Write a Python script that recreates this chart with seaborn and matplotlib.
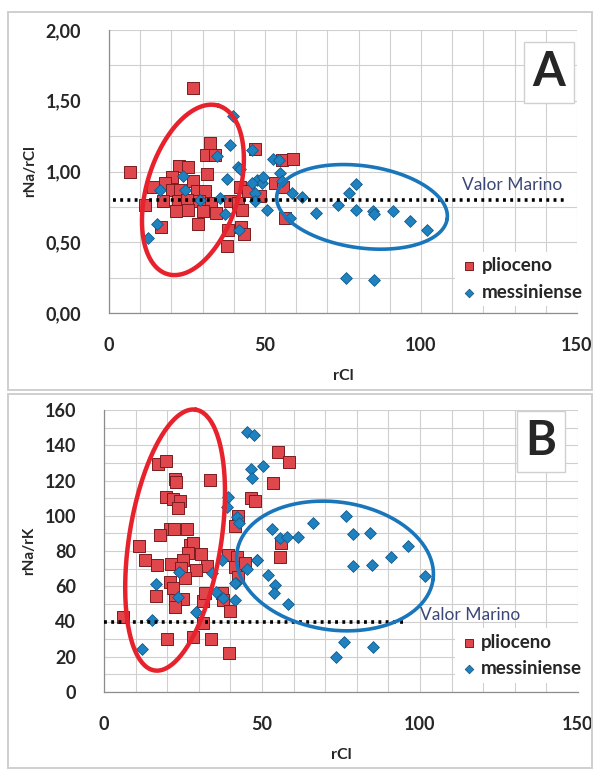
import numpy as np
import pandas as pd
import seaborn as sns
import matplotlib.pyplot as plt
from matplotlib.patches import Rectangle
from matplotlib.ticker import FuncFormatter, MultipleLocator

# panel A: rNa/rCl vs rCl
a_plio_x = [26.8, 6.7, 32.4, 31.1, 34.0, 46.8, 55.3, 59.1, 22.4, 25.4, 31.5, 20.1, 27.0,
            17.9, 14.2, 20.1, 22.8, 28.1, 30.8, 17.4, 22.0, 24.9, 28.8, 32.7, 11.5, 21.4,
            25.4, 30.2, 34.2, 38.8, 41.4, 42.7, 42.0, 44.7, 16.7, 28.6, 38.2, 42.3, 43.4,
            37.7, 53.2, 55.9, 56.4, 48.4]
a_plio_y = [1.59, 1.00, 1.20, 1.12, 1.12, 1.16, 1.08, 1.09, 1.04, 1.03, 0.98, 0.96, 0.93,
            0.92, 0.89, 0.87, 0.87, 0.86, 0.86, 0.79, 0.79, 0.80, 0.79, 0.78, 0.76, 0.72,
            0.73, 0.72, 0.71, 0.79, 0.78, 0.73, 0.89, 0.86, 0.61, 0.63, 0.59, 0.61, 0.56,
            0.47, 0.92, 0.89, 0.67, 0.83]
a_mess_x = [39.8, 38.8, 34.5, 45.7, 52.7, 54.6, 41.5, 23.8, 37.9, 47.3, 48.9, 45.7, 16.3,
            24.4, 46.8, 29.2, 35.6, 54.8, 55.3, 58.5, 61.8, 37.2, 50.5, 15.5, 12.6, 41.8,
            58.0, 46.8, 66.3, 73.5, 77.0, 79.2, 79.2, 84.5, 84.9, 91.1, 96.5, 101.8, 76.0,
            85.0, 42.0, 49.5]
a_mess_y = [1.39, 1.19, 1.11, 1.15, 1.09, 1.08, 1.03, 0.97, 0.95, 0.94, 0.92, 0.92, 0.87,
            0.87, 0.85, 0.80, 0.81, 0.99, 0.93, 0.85, 0.82, 0.70, 0.73, 0.63, 0.53, 0.59,
            0.67, 0.79, 0.71, 0.76, 0.85, 0.91, 0.73, 0.72, 0.70, 0.72, 0.65, 0.59, 0.25,
            0.23, 1.02, 0.96]

# panel B: rNa/rK vs rCl
b_plio_x = [17.0, 19.6, 22.5, 22.8, 33.5, 19.6, 21.9, 24.1, 23.5, 55.2, 58.6, 53.4, 46.4,
            47.8, 42.5, 41.5, 20.9, 22.2, 26.2, 17.7, 11.2, 27.2, 28.2, 26.7, 30.7, 13.0,
            25.1, 16.9, 21.1, 32.5, 29.1, 24.5, 25.6, 20.9, 21.9, 16.5, 25.1, 22.5, 31.2,
            22.5, 32.0, 37.2, 37.8, 39.9, 6.1, 31.4, 20.0, 28.3, 33.8, 39.7, 39.3, 42.0,
            41.5, 44.6, 55.9, 55.7, 42.5]
b_plio_y = [129.4, 131.1, 120.9, 119.0, 120.3, 110.5, 109.3, 108.5, 104.6, 136.0, 130.7,
            118.8, 109.9, 108.5, 99.9, 94.2, 92.3, 92.3, 92.3, 89.1, 83.0, 83.4, 84.4, 78.7,
            78.1, 74.9, 74.9, 72.1, 72.6, 71.7, 69.2, 70.2, 64.5, 62.6, 58.8, 54.5, 52.6,
            52.2, 51.8, 48.1, 56.3, 56.0, 52.2, 46.1, 42.4, 39.3, 29.9, 31.0, 29.9, 21.9,
            77.7, 76.8, 71.1, 73.0, 84.4, 76.8, 65.4]
b_mess_x = [45.4, 47.5, 50.2, 46.4, 46.7, 39.3, 38.8, 42.0, 42.8, 53.1, 66.0, 76.6, 55.7,
            57.8, 61.5, 78.9, 84.2, 96.3, 90.7, 48.5, 45.3, 78.9, 84.7, 101.6, 52.0, 41.8,
            54.1, 53.8, 41.5, 37.8, 58.3, 75.9, 85.0, 73.4, 23.8, 16.5, 23.5, 29.1, 15.1,
            12.1, 35.4, 34.1, 37.2, 41.5, 48.3]
b_mess_y = [147.3, 145.8, 128.2, 126.4, 121.6, 110.5, 105.1, 99.5, 95.7, 92.5, 95.7, 99.9,
            87.6, 87.9, 87.9, 89.6, 90.0, 82.8, 76.8, 74.9, 69.6, 71.5, 72.1, 66.0, 66.4,
            62.0, 60.7, 56.4, 52.2, 53.2, 49.7, 28.6, 25.7, 19.7, 68.3, 61.1, 53.7, 45.2,
            40.9, 24.4, 56.9, 67.7, 74.9, 61.7, 74.9]

groups = ['plioceno', 'messiniense']
marino_a = 0.8
marino_b = 40

RED = '#e0474c'
BLUE = '#1f82c0'

sns.set_style('white')
plt.rcParams['font.family'] = ['Lato', 'DejaVu Sans']


def draw_ellipse(ax, cx, cy, a, b, angle, color, lw):
    # a, b in pixels, centre in data units
    t = np.linspace(0, 2 * np.pi, 200)
    th = np.deg2rad(angle)
    dx = a * np.cos(t) * np.cos(th) - b * np.sin(t) * np.sin(th)
    dy = a * np.cos(t) * np.sin(th) + b * np.sin(t) * np.cos(th)
    c = ax.transData.transform((cx, cy))
    pts = ax.transData.inverted().transform(np.column_stack([c[0] + dx, c[1] + dy]))
    ax.plot(pts[:, 0], pts[:, 1], color=color, lw=lw, zorder=5, clip_on=False)


def panel(ax, px, py, mx, my, ylim, ystep, ymajor, ylabel, fmt, marino, txt_xy,
          letter, letter_xy, leg_xy):
    sns.scatterplot(x=px, y=py, marker='s', color=RED, edgecolor='#7a1c20', s=72,
                    linewidth=0.7, label=groups[0], zorder=3, ax=ax)
    sns.scatterplot(x=mx, y=my, marker='D', color=BLUE, edgecolor='#135a8a', s=36,
                    linewidth=0.6, label=groups[1], zorder=3, ax=ax)
    ax.set_xlim(0, 150)
    ax.set_ylim(*ylim)
    ax.xaxis.set_major_locator(MultipleLocator(50))
    ax.xaxis.set_minor_locator(MultipleLocator(10))
    ax.yaxis.set_major_locator(MultipleLocator(ymajor))
    ax.yaxis.set_minor_locator(MultipleLocator(ystep))
    ax.yaxis.set_major_formatter(FuncFormatter(fmt))
    ax.grid(True, which='both', color='#cfcfcf', lw=0.8, zorder=0)
    ax.set_axisbelow(True)
    for s in ['top', 'right']:
        ax.spines[s].set_visible(False)
    for s in ['left', 'bottom']:
        ax.spines[s].set_color('#8c8c8c')
        ax.spines[s].set_linewidth(0.9)
    ax.tick_params(which='major', direction='out', length=5, color='#8c8c8c', width=0.9,
                   labelsize=13)
    ax.tick_params(axis='y', pad=15)
    ax.tick_params(axis='x', pad=12)
    ax.tick_params(which='minor', length=0)
    for lab in ax.get_xticklabels() + ax.get_yticklabels():
        lab.set_fontweight('bold')
    ax.set_xlabel('rCl', fontsize=11.5, fontweight='bold', labelpad=11)
    ax.set_ylabel(ylabel, fontsize=11, fontweight='bold', labelpad=6)
    ax.plot([marino[0], marino[1]], [marino[2], marino[2]], color='black', lw=2.6,
            ls=(0, (0.8, 1.2)), zorder=4)
    ax.text(txt_xy[0], txt_xy[1], 'Valor Marino', color='#3b4777', fontsize=12.5, zorder=6)
    ax.text(letter_xy[0], letter_xy[1], letter, transform=ax.transAxes, fontsize=34,
            fontweight='bold', ha='center', va='center', zorder=7,
            bbox=dict(boxstyle='square,pad=0.18', fc='white', ec='#d0d0d0', lw=1))
    handles, labels = ax.get_legend_handles_labels()
    leg = ax.legend(handles, labels, loc='center left', bbox_to_anchor=leg_xy,
                    frameon=True, framealpha=1, edgecolor='none', fancybox=False,
                    handletextpad=0.2, handlelength=0.9, borderpad=0.3, labelspacing=0.5,
                    markerscale=0.72, prop={'weight': 'bold', 'size': 13.5})
    leg.set_zorder(8)


fig = plt.figure(figsize=(5.98, 7.73), dpi=100)
W, H = 598, 773
fig.add_artist(Rectangle((8 / W, 1 - 390 / H), 584 / W, 378 / H, transform=fig.transFigure,
                         fill=False, ec='#cfcfcf', lw=1.4))
fig.add_artist(Rectangle((8 / W, 1 - 768 / H), 584 / W, 374 / H, transform=fig.transFigure,
                         fill=False, ec='#cfcfcf', lw=1.4))

ax_a = fig.add_axes([109 / W, 1 - 313 / H, 468 / W, 283 / H])
ax_b = fig.add_axes([104 / W, 1 - 692 / H, 474 / W, 282 / H])

panel(ax_a, a_plio_x, a_plio_y, a_mess_x, a_mess_y, (0, 2), 0.25, 0.5, 'rNa/rCl',
      lambda v, p: f'{v:.2f}'.replace('.', ','),
      (1.3, 146, marino_a), (113, 0.87), 'A', (0.94, 0.85), (0.72, 0.12))
panel(ax_b, b_plio_x, b_plio_y, b_mess_x, b_mess_y, (0, 160), 10, 20, 'rNa/rK',
      lambda v, p: f'{v:.0f}',
      (0, 95, marino_b), (100, 41), 'B', (0.922, 0.89), (0.72, 0.13))

draw_ellipse(ax_a, 26.9, 0.87, 88, 46, 73, '#e8222c', 3.2)
draw_ellipse(ax_a, 81.1, 0.75, 86, 41, -8, '#1a76bb', 2.6)
draw_ellipse(ax_b, 22.5, 86.2, 132, 46, 81, '#e8222c', 3.2)
draw_ellipse(ax_b, 73.1, 71.5, 99, 64, -8, '#1a76bb', 2.6)

fig.savefig('out.png', dpi=100)
